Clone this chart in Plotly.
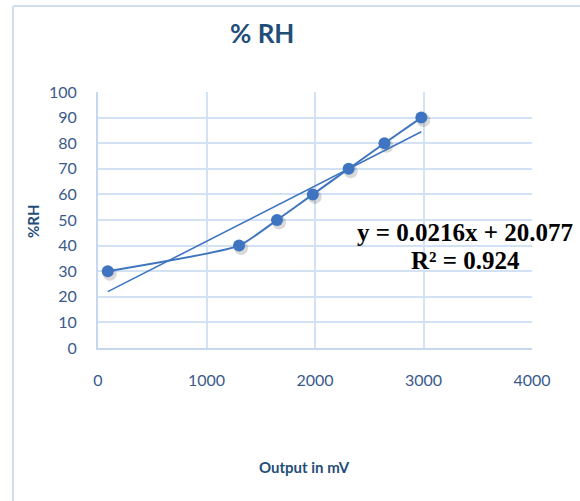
import plotly.graph_objects as go

# Data
output_mv = [90, 1300, 1650, 1980, 2310, 2640, 2980]
rh_percent = [30, 40, 50, 60, 70, 80, 90]
trend_slope = 0.0216
trend_intercept = 20.077
trend_r2 = 0.924
x_ticks = [0, 1000, 2000, 3000, 4000]
y_ticks = [0, 10, 20, 30, 40, 50, 60, 70, 80, 90, 100]

line_color = "#3F75C0"
grid_color = "#D2E1F4"
text_color = "#3A5A8C"
title_color = "#1F4E79"

W, H = 580, 501
L, R, T, B = 98, 48, 92, 153
PW, PH = W - L - R, H - T - B
X_RANGE, Y_RANGE = 4000, 100


def px(xp):
    return (xp - L) / PW


def py(yp):
    return (H - B - yp) / PH


trend_x = [min(output_mv), max(output_mv)]
trend_y = [trend_slope * v + trend_intercept for v in trend_x]

# soft shadow under markers (offset of ~2 px converted to data units)
shadow_dx = 2 * X_RANGE / PW
shadow_dy = 2.5 * Y_RANGE / PH

fig = go.Figure()
fig.add_trace(go.Scatter(
    x=[v + shadow_dx for v in output_mv], y=[v - shadow_dy for v in rh_percent],
    mode="markers", marker=dict(color="rgba(0,0,0,0.15)", size=14),
    showlegend=False, hoverinfo="skip",
))
fig.add_trace(go.Scatter(
    x=output_mv, y=rh_percent, mode="lines+markers",
    line=dict(color=line_color, width=2, shape="spline", smoothing=0.5),
    marker=dict(color=line_color, size=12),
    showlegend=False, hoverinfo="skip",
))
fig.add_trace(go.Scatter(
    x=trend_x, y=trend_y, mode="lines",
    line=dict(color=line_color, width=1.6),
    showlegend=False, hoverinfo="skip",
))

axis_common = dict(
    showgrid=True, gridcolor=grid_color, gridwidth=1.5,
    showline=True, linecolor="#C6D8EF", linewidth=2,
    zeroline=False, ticks="",
    tickfont=dict(family="Lato", size=16, color=text_color),
)
fig.update_xaxes(range=[0, X_RANGE], tickvals=x_ticks, ticklabelstandoff=17, **axis_common)
fig.update_yaxes(range=[0, Y_RANGE], tickvals=y_ticks, ticklabelstandoff=16, **axis_common)

fig.update_layout(
    width=W, height=H, autosize=False,
    margin=dict(l=L, r=R, t=T, b=B),
    paper_bgcolor="white", plot_bgcolor="white",
    annotations=[
        dict(text="<b>% RH</b>", x=px(262), y=py(33), xref="paper", yref="paper",
             showarrow=False, xanchor="center", yanchor="middle",
             font=dict(family="Lato", size=26, color=title_color)),
        dict(text="<b>%RH</b>", x=px(33), y=py(221), xref="paper", yref="paper",
             showarrow=False, textangle=-90, xanchor="center", yanchor="middle",
             font=dict(family="Lato", size=15, color=title_color)),
        dict(text="<b>Output in mV</b>", x=px(304), y=py(467), xref="paper", yref="paper",
             showarrow=False, xanchor="center", yanchor="middle",
             font=dict(family="Lato", size=15, color=title_color)),
        dict(text=f"<b>y = {trend_slope}x + {trend_intercept}</b>", x=px(465), y=py(232),
             xref="paper", yref="paper", showarrow=False, xanchor="center", yanchor="middle",
             font=dict(family="Liberation Serif", size=25, color="black")),
        dict(text=f"<b>R² = {trend_r2}</b>", x=px(465), y=py(260),
             xref="paper", yref="paper", showarrow=False, xanchor="center", yanchor="middle",
             font=dict(family="Liberation Serif", size=25, color="black")),
    ],
    shapes=[
        dict(type="line", xref="paper", yref="paper", x0=px(13), x1=px(W), y0=py(6), y1=py(6),
             line=dict(color="#D0DEF0", width=2)),
        dict(type="line", xref="paper", yref="paper", x0=px(13), x1=px(13), y0=py(6), y1=py(H),
             line=dict(color="#D0DEF0", width=2)),
    ],
)

fig.write_html("out.html", config={"displayModeBar": False},
               post_script="document.body.style.margin='0';")
